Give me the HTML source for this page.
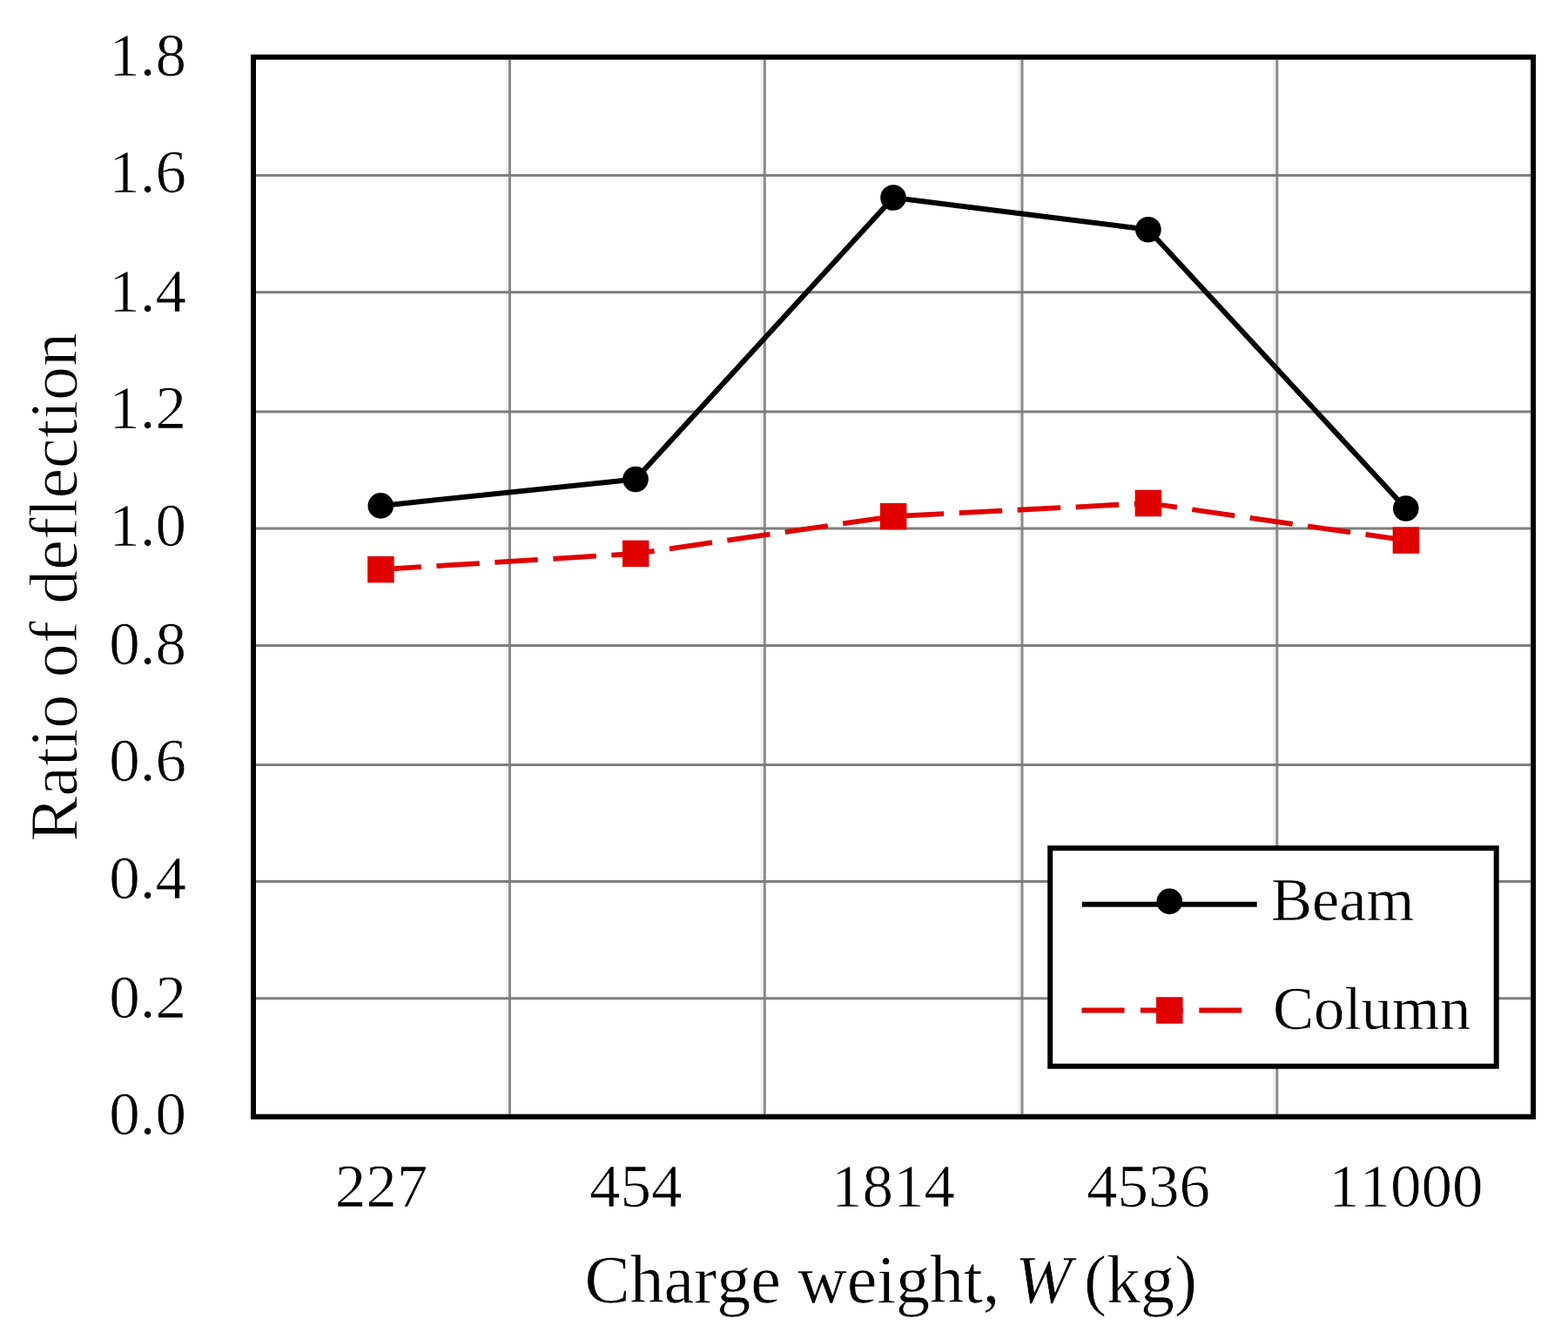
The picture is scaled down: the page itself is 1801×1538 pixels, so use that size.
<!DOCTYPE html><html><head><meta charset="utf-8"><title>Ratio of deflection vs charge weight</title><style>
html,body{margin:0;padding:0;background:#fff;overflow:hidden}svg{display:block}
text{font-family:"Liberation Serif","Times New Roman",serif;font-kerning:none;fill:#000;stroke:#fff;paint-order:fill stroke}.tk{stroke-width:0.7px}.lg{stroke-width:0.5px}.xt{stroke-width:0.6px}.yt{stroke-width:1px}
</style></head><body>
<svg width="1801" height="1538" viewBox="0 0 1801 1538">
<rect x="0" y="0" width="1801" height="1538" fill="#fff"/>
<rect x="580.5" y="68.6" width="3.5" height="1211.1" fill="#f0f0f0"/>
<rect x="873.3" y="68.6" width="3.5" height="1211.1" fill="#f0f0f0"/>
<rect x="1169.0" y="68.6" width="3.5" height="1211.1" fill="#f0f0f0"/>
<rect x="1461.8" y="68.6" width="3.5" height="1211.1" fill="#f0f0f0"/>
<rect x="584.0" y="68.6" width="3" height="1211.1" fill="#8a8a8a"/>
<rect x="876.8" y="68.6" width="3" height="1211.1" fill="#8a8a8a"/>
<rect x="1172.5" y="68.6" width="3" height="1211.1" fill="#8a8a8a"/>
<rect x="1465.3" y="68.6" width="3" height="1211.1" fill="#8a8a8a"/>
<rect x="294.0" y="199.9" width="1464.1" height="3" fill="#7e7e7e"/>
<rect x="294.0" y="334.2" width="1464.1" height="3" fill="#7e7e7e"/>
<rect x="294.0" y="471.4" width="1464.1" height="3" fill="#7e7e7e"/>
<rect x="294.0" y="605.5" width="1464.1" height="3" fill="#7e7e7e"/>
<rect x="294.0" y="740.0" width="1464.1" height="3" fill="#7e7e7e"/>
<rect x="294.0" y="877.0" width="1464.1" height="3" fill="#7e7e7e"/>
<rect x="294.0" y="1011.0" width="1464.1" height="3" fill="#7e7e7e"/>
<rect x="294.0" y="1145.3" width="1464.1" height="3" fill="#7e7e7e"/>
<rect x="291.0" y="65.6" width="1470.1" height="1217.1" fill="none" stroke="#000" stroke-width="6"/>
<polyline points="437.4,654.1 730.2,635.9 1026.1,593.1 1318.9,578 1614.9,620.6" fill="none" stroke="#e00000" stroke-width="5.8" stroke-dasharray="49.5 17.6" stroke-dashoffset="2.97" stroke-linejoin="round"/>
<polyline points="437.3,580.9 730,550.5 1026,227 1318.9,263.7 1614.8,584" fill="none" stroke="#000" stroke-width="6" stroke-linejoin="round"/>
<circle cx="437.3" cy="580.9" r="14.8" fill="#000"/>
<circle cx="730" cy="550.5" r="14.8" fill="#000"/>
<circle cx="1026" cy="227" r="14.8" fill="#000"/>
<circle cx="1318.9" cy="263.7" r="14.8" fill="#000"/>
<circle cx="1614.8" cy="584" r="14.8" fill="#000"/>
<rect x="422.15" y="638.85" width="30.5" height="30.5" fill="#e00000"/>
<rect x="714.95" y="620.65" width="30.5" height="30.5" fill="#e00000"/>
<rect x="1010.85" y="577.85" width="30.5" height="30.5" fill="#e00000"/>
<rect x="1303.65" y="562.75" width="30.5" height="30.5" fill="#e00000"/>
<rect x="1599.65" y="605.35" width="30.5" height="30.5" fill="#e00000"/>
<text class="tk" transform="translate(214,86.5) scale(1.03,1)" font-size="69" text-anchor="end">1.8</text>
<text class="tk" transform="translate(214,220.5) scale(1.03,1)" font-size="69" text-anchor="end">1.6</text>
<text class="tk" transform="translate(214,358.3) scale(1.03,1)" font-size="69" text-anchor="end">1.4</text>
<text class="tk" transform="translate(214,492.3) scale(1.03,1)" font-size="69" text-anchor="end">1.2</text>
<text class="tk" transform="translate(214,626.5) scale(1.03,1)" font-size="69" text-anchor="end">1.0</text>
<text class="tk" transform="translate(214,762.8) scale(1.03,1)" font-size="69" text-anchor="end">0.8</text>
<text class="tk" transform="translate(214,897.1) scale(1.03,1)" font-size="69" text-anchor="end">0.6</text>
<text class="tk" transform="translate(214,1031.9) scale(1.03,1)" font-size="69" text-anchor="end">0.4</text>
<text class="tk" transform="translate(214,1168.9) scale(1.03,1)" font-size="69" text-anchor="end">0.2</text>
<text class="tk" transform="translate(214,1302.9) scale(1.03,1)" font-size="69" text-anchor="end">0.0</text>
<text class="tk" transform="translate(438,1386.2) scale(1.03,1)" font-size="69" text-anchor="middle">227</text>
<text class="tk" transform="translate(730.2,1386.2) scale(1.03,1)" font-size="69" text-anchor="middle">454</text>
<text class="tk" transform="translate(1026,1386.2) scale(1.03,1)" font-size="69" text-anchor="middle">1814</text>
<text class="tk" transform="translate(1319,1386.2) scale(1.03,1)" font-size="69" text-anchor="middle">4536</text>
<text class="tk" transform="translate(1614.8,1386.2) scale(1.03,1)" font-size="69" text-anchor="middle">11000</text>
<text class="yt" transform="translate(87.5,966.76) rotate(-90)" font-size="78">Ratio of deflection</text>
<text class="xt" y="1495.5" font-size="78"><tspan x="671.6">Charge weight,</tspan> <tspan x="1166" font-style="italic">W</tspan> <tspan x="1245">(kg)</tspan></text>
<rect x="1206.2" y="974.2" width="512.5" height="250.5" fill="#fff" stroke="#000" stroke-width="6"/>
<line x1="1242.8" y1="1038.7" x2="1443.7" y2="1038.7" stroke="#000" stroke-width="6"/>
<circle cx="1343.3" cy="1035.4" r="14.8" fill="#000"/>
<line x1="1242.5" y1="1160.5" x2="1443.7" y2="1160.5" stroke="#e00000" stroke-width="5.8" stroke-dasharray="49 18.4"/>
<rect x="1328.05" y="1145.25" width="30.5" height="30.5" fill="#e00000"/>
<text class="lg" x="1460" y="1057" font-size="70.5">Beam</text>
<text class="lg" x="1462" y="1182.3" font-size="70.5">Column</text>
</svg></body></html>
